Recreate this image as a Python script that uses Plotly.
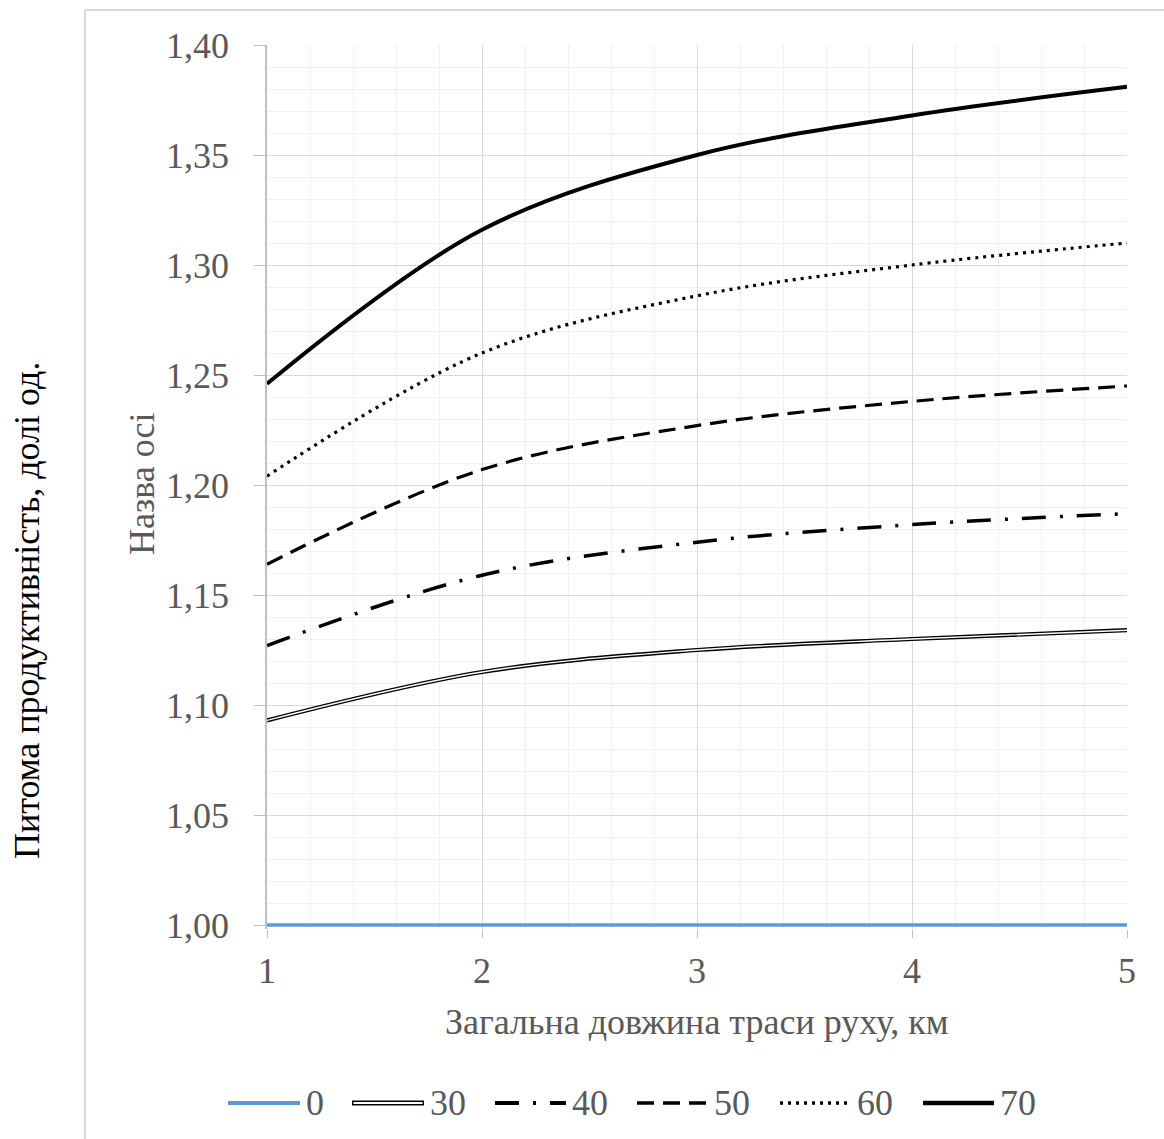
import plotly.graph_objects as go

# Загальна довжина траси руху, км
distance_km = [1, 2, 3, 4, 5]

# Питома продуктивність для кожного значення параметра
series_names = ["0", "30", "40", "50", "60", "70"]
values_0 = [1.000, 1.000, 1.000, 1.000, 1.000]
values_30 = [1.093, 1.115, 1.125, 1.130, 1.134]
values_40 = [1.127, 1.159, 1.174, 1.182, 1.187]
values_50 = [1.164, 1.207, 1.227, 1.238, 1.245]
values_60 = [1.204, 1.260, 1.286, 1.300, 1.310]
values_70 = [1.246, 1.316, 1.350, 1.368, 1.381]

y_ticks = [1.00, 1.05, 1.10, 1.15, 1.20, 1.25, 1.30, 1.35, 1.40]
x_ticks = [1, 2, 3, 4, 5]

FONT = "Liberation Serif, Times New Roman, serif"
GREY_TXT = "#595959"
BLUE = "#5B9BD5"

W, H = 1164, 1139
L, R, T, B = 267, 37, 45, 210
PW, PH = W - L - R, H - T - B

# a few pixels of headroom below 1,00 so the baseline series is not clipped
Y_TOP = 1.40
PX_PER_UNIT = 880 / 0.40
Y_BOTTOM = Y_TOP - PH / PX_PER_UNIT


def px_x(px):
    return (px - L) / PW


def px_y(py):
    return (H - B - py) / PH


styles = {
    "0": dict(color=BLUE, width=3.5, dash="solid"),
    "40": dict(color="black", width=3.5, dash="24px,14px,3px,14px"),
    "50": dict(color="black", width=3.2, dash="17px,9px"),
    "60": dict(color="black", width=3.2, dash="3px,5px"),
    "70": dict(color="black", width=4, dash="solid"),
}

fig = go.Figure()

series = [values_0, values_30, values_40, values_50, values_60, values_70]
for name, vals in zip(series_names, series):
    if name == "30":
        # double line: black outline with a thin white core
        fig.add_trace(go.Scatter(x=distance_km, y=vals, mode="lines",
                                 line=dict(color="black", width=4.2, shape="spline"),
                                 showlegend=False, hoverinfo="skip"))
        fig.add_trace(go.Scatter(x=distance_km, y=vals, mode="lines", name=name,
                                 line=dict(color="white", width=1.4, shape="spline"),
                                 showlegend=False))
    else:
        st = styles[name]
        fig.add_trace(go.Scatter(x=distance_km, y=vals, mode="lines", name=name,
                                 line=dict(color=st["color"], width=st["width"],
                                           dash=st["dash"], shape="spline"),
                                 showlegend=False))

shapes = []
annotations = []

# outer chart frame (left and top edges visible)
shapes.append(dict(type="line", xref="paper", yref="paper",
                   x0=px_x(85), x1=px_x(85), y0=px_y(H + 5), y1=px_y(10),
                   line=dict(color="#d9d9d9", width=2)))
shapes.append(dict(type="line", xref="paper", yref="paper",
                   x0=px_x(85), x1=px_x(W + 5), y0=px_y(10), y1=px_y(10),
                   line=dict(color="#d9d9d9", width=2)))

# legend row
legend_y = px_y(1103)
legend_items = [
    ("0", 228, 300),
    ("30", 352, 424),
    ("40", 495, 566),
    ("50", 637, 708),
    ("60", 780, 851),
    ("70", 923, 994),
]
for name, x0, x1 in legend_items:
    if name == "30":
        shapes.append(dict(type="line", xref="paper", yref="paper",
                           x0=px_x(x0), x1=px_x(x1), y0=legend_y, y1=legend_y,
                           line=dict(color="black", width=5)))
        shapes.append(dict(type="line", xref="paper", yref="paper",
                           x0=px_x(x0 + 1.5), x1=px_x(x1 - 1.5), y0=legend_y, y1=legend_y,
                           line=dict(color="white", width=2)))
    else:
        st = styles[name]
        shapes.append(dict(type="line", xref="paper", yref="paper",
                           x0=px_x(x0), x1=px_x(x1), y0=legend_y, y1=legend_y,
                           line=dict(color=st["color"], width=st["width"] + 0.5,
                                     dash=st["dash"])))
    annotations.append(dict(text=name, xref="paper", yref="paper",
                            x=px_x(x1 + 4), y=legend_y, xanchor="left", yanchor="middle",
                            showarrow=False, font=dict(family=FONT, size=36, color=GREY_TXT)))

# axis titles
annotations.append(dict(text="Загальна довжина траси руху, км", xref="paper", yref="paper",
                        x=0.5, y=px_y(1022), xanchor="center", yanchor="middle",
                        showarrow=False, font=dict(family=FONT, size=36, color=GREY_TXT)))
annotations.append(dict(text="Назва осі", xref="paper", yref="paper",
                        x=px_x(142), y=px_y(484), xanchor="center", yanchor="middle",
                        textangle=-90, showarrow=False,
                        font=dict(family=FONT, size=36, color=GREY_TXT)))
annotations.append(dict(text="Питома продуктивність, долі од.", xref="paper", yref="paper",
                        x=px_x(27), y=px_y(611), xanchor="center", yanchor="middle",
                        textangle=-90, showarrow=False,
                        font=dict(family=FONT, size=36, color="black")))

fig.update_layout(
    width=W, height=H,
    margin=dict(l=L, r=R, t=T, b=B),
    paper_bgcolor="white", plot_bgcolor="white",
    separators=", ",
    showlegend=False,
    shapes=shapes,
    annotations=annotations,
    xaxis=dict(
        range=[1, 5], tickvals=x_ticks, ticktext=[str(v) for v in x_ticks],
        showgrid=True, gridcolor="#d9d9d9", gridwidth=1.3,
        minor=dict(dtick=0.2, showgrid=True, gridcolor="#f0f0f0", gridwidth=1.3),
        ticks="outside", ticklen=8, tickcolor="#bfbfbf", tickwidth=1.3,
        showline=False,
        zeroline=False, layer="below traces",
        tickfont=dict(family=FONT, size=36, color=GREY_TXT),
        ticklabelstandoff=2,
    ),
    yaxis=dict(
        range=[Y_BOTTOM, Y_TOP], tickvals=y_ticks, tickformat=".2f",
        showgrid=True, gridcolor="#d9d9d9", gridwidth=1.3,
        minor=dict(tickvals=[round(1.0 + 0.01 * i, 2) for i in range(41)],
                   showgrid=True, gridcolor="#f0f0f0", gridwidth=1.3),
        ticks="outside", ticklen=11, tickcolor="#bfbfbf", tickwidth=1.3,
        showline=True, linecolor="#bfbfbf", linewidth=1.5,
        zeroline=False, layer="below traces",
        tickfont=dict(family=FONT, size=36, color=GREY_TXT),
        ticklabelstandoff=18,
    ),
)

fig.write_html("out.html")
